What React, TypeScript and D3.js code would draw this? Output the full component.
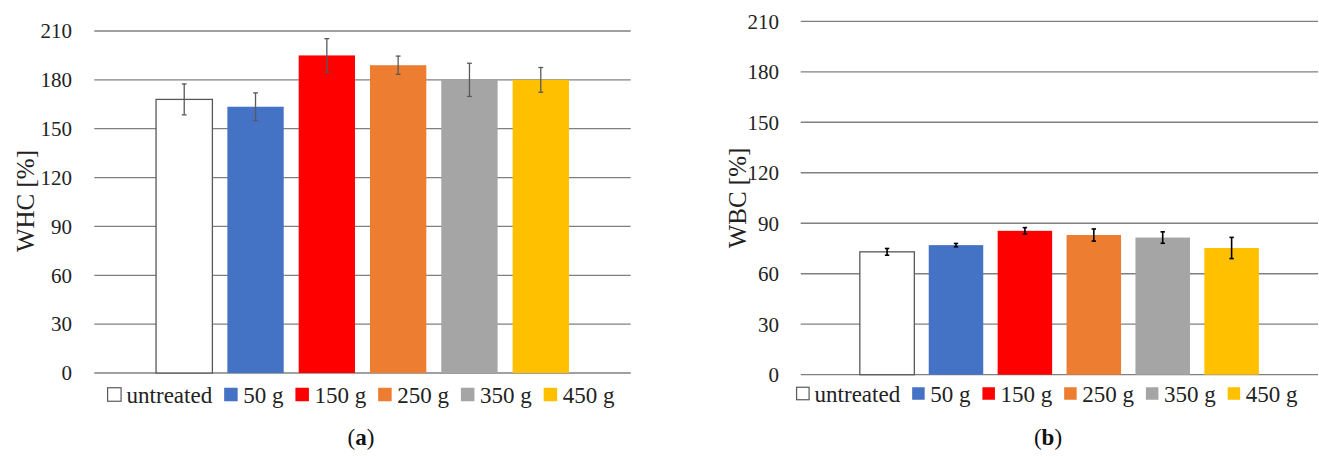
import React, { useEffect, useRef } from "react";
import * as d3 from "d3";

const categories = ["untreated", "50 g", "150 g", "250 g", "350 g", "450 g"];
const colors = ["#FFFFFF", "#4472C4", "#FF0000", "#ED7D31", "#A5A5A5", "#FFC000"];
const whcValues = [168, 163.5, 195, 189, 180, 180];
const whcErrors = [9.5, 8.5, 10.3, 5.6, 10.2, 7.6];
const wbcValues = [73, 77, 85.5, 83, 81.5, 75.3];
const wbcErrors = [2, 1, 1.9, 3.6, 3.4, 6.3];
const yTicks = [0, 30, 60, 90, 120, 150, 180, 210];

const FONT = "'Liberation Serif', 'Times New Roman', serif";

type PanelCfg = {
  values: number[];
  errors: number[];
  title: string;
  label: string;
  x0: number;
  x1: number;
  yTop: number;
  yBottom: number;
  tickRight: number;
  titleX: number;
  titleY: number;
  legendCenter: number;
  legendY: number;
  legendBox: number;
  capHalf: number;
  errColor: string;
  errWidth: number;
  labelX: number;
  paddingInner: number;
  paddingOuter: number;
};

const panels: PanelCfg[] = [
  {
    values: whcValues,
    errors: whcErrors,
    title: "WHC [%]",
    label: "a",
    x0: 94.3,
    x1: 630.7,
    yTop: 31,
    yBottom: 373,
    tickRight: 72,
    titleX: 25,
    titleY: 201,
    legendCenter: 361,
    legendY: 394.5,
    legendBox: 13.5,
    capHalf: 2.4,
    errColor: "#595959",
    errWidth: 1.3,
    labelX: 361,
    paddingInner: 0.21,
    paddingOuter: 0.866,
  },
  {
    values: wbcValues,
    errors: wbcErrors,
    title: "WBC [%]",
    label: "b",
    x0: 800.7,
    x1: 1318,
    yTop: 21.3,
    yBottom: 374.7,
    tickRight: 779,
    titleX: 737,
    titleY: 198,
    legendCenter: 1047,
    legendY: 393.5,
    legendBox: 12.5,
    capHalf: 2.2,
    errColor: "#000000",
    errWidth: 1.6,
    labelX: 1048,
    paddingInner: 0.209,
    paddingOuter: 0.858,
  },
];

export default function App() {
  const ref = useRef<SVGSVGElement | null>(null);

  useEffect(() => {
    const svg = d3.select(ref.current);
    svg.selectAll("*").remove();

    panels.forEach((p) => {
      const g = svg.append("g");
      const y = d3.scaleLinear().domain([0, 210]).range([p.yBottom, p.yTop]);
      const x = d3
        .scaleBand<string>()
        .domain(categories)
        .range([p.x0, p.x1])
        .paddingInner(p.paddingInner)
        .paddingOuter(p.paddingOuter);

      // gridlines
      g.selectAll("line.grid")
        .data(yTicks)
        .enter()
        .append("line")
        .attr("x1", p.x0)
        .attr("x2", p.x1)
        .attr("y1", (d) => y(d))
        .attr("y2", (d) => y(d))
        .attr("stroke", "#808080")
        .attr("stroke-width", 1.3);

      // tick labels
      g.selectAll("text.tick")
        .data(yTicks)
        .enter()
        .append("text")
        .attr("x", p.tickRight)
        .attr("y", (d) => y(d))
        .attr("dy", "0.35em")
        .attr("text-anchor", "end")
        .attr("font-family", FONT)
        .attr("font-size", 21)
        .attr("fill", "#222")
        .text((d) => String(d));

      // bars
      g.selectAll("rect.bar")
        .data(categories)
        .enter()
        .append("rect")
        .attr("x", (d) => x(d)!)
        .attr("width", x.bandwidth())
        .attr("y", (_, i) => y(p.values[i]))
        .attr("height", (_, i) => y(0) - y(p.values[i]))
        .attr("fill", (_, i) => colors[i])
        .attr("stroke", (_, i) => (i === 0 ? "#595959" : "none"))
        .attr("stroke-width", 1.3);

      // error bars
      categories.forEach((c, i) => {
        const cx = x(c)! + x.bandwidth() / 2;
        const hi = y(p.values[i] + p.errors[i]);
        const lo = y(p.values[i] - p.errors[i]);
        const eg = g.append("g").attr("stroke", p.errColor).attr("stroke-width", p.errWidth);
        eg.append("line").attr("x1", cx).attr("x2", cx).attr("y1", hi).attr("y2", lo);
        eg.append("line").attr("x1", cx - p.capHalf).attr("x2", cx + p.capHalf).attr("y1", hi).attr("y2", hi);
        eg.append("line").attr("x1", cx - p.capHalf).attr("x2", cx + p.capHalf).attr("y1", lo).attr("y2", lo);
      });

      // y-axis title
      g.append("text")
        .attr("transform", `translate(${p.titleX},${p.titleY}) rotate(-90)`)
        .attr("text-anchor", "middle")
        .attr("dy", "0.35em")
        .attr("font-family", FONT)
        .attr("font-size", 25)
        .attr("fill", "#222")
        .text(p.title);

      // legend
      const lg = g.append("g");
      const items = categories.map((c, i) => {
        const ig = lg.append("g");
        ig.append("rect")
          .attr("x", 0)
          .attr("y", p.legendY - p.legendBox / 2)
          .attr("width", p.legendBox)
          .attr("height", p.legendBox)
          .attr("fill", colors[i])
          .attr("stroke", i === 0 ? "#595959" : "none")
          .attr("stroke-width", 1.2);
        const t = ig
          .append("text")
          .attr("x", p.legendBox + 5.5)
          .attr("y", p.legendY)
          .attr("dy", "0.35em")
          .attr("font-family", FONT)
          .attr("font-size", 23)
          .attr("fill", "#222")
          .text(c);
        const w = (t.node() as SVGTextElement).getComputedTextLength();
        return { ig, w: p.legendBox + 5.5 + w };
      });
      const gap = 12;
      const total = items.reduce((s, it) => s + it.w, 0) + gap * (items.length - 1);
      let cur = p.legendCenter - total / 2;
      items.forEach((it) => {
        it.ig.attr("transform", `translate(${cur},0)`);
        cur += it.w + gap;
      });

      // panel label
      const lt = g
        .append("text")
        .attr("x", p.labelX)
        .attr("y", 437)
        .attr("dy", "0.35em")
        .attr("text-anchor", "middle")
        .attr("font-family", FONT)
        .attr("font-size", 23)
        .attr("fill", "#111");
      lt.append("tspan").text("(");
      lt.append("tspan").attr("font-weight", "bold").text(p.label);
      lt.append("tspan").text(")");
    });
  }, []);

  return (
    <svg
      ref={ref}
      width={1319}
      height={457}
      style={{ position: "absolute", left: 0, top: 0, background: "#fff" }}
    />
  );
}
